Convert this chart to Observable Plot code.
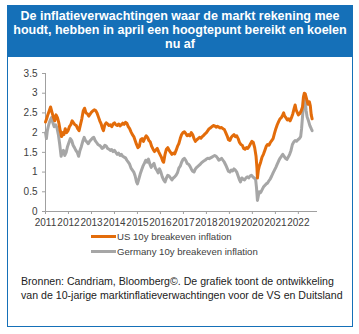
<!DOCTYPE html>
<html>
<head>
<meta charset="utf-8">
<script src="https://cdn.jsdelivr.net/npm/d3@7"></script>
<script src="https://cdn.jsdelivr.net/npm/@observablehq/plot@0.6"></script>
<style>
  body { margin: 0; background: #fff; font-family: "Liberation Sans", Arial, sans-serif; }
  #frame { position: absolute; left: 7px; top: 5px; width: 346px; height: 322px; box-sizing: border-box; border: 1px solid #1570b8; }
  #title { position: absolute; left: 7px; top: 5px; width: 346px; height: 52px; background: #1570b8; color: #fff; font-weight: bold; font-size: 12.5px; line-height: 14px; text-align: center; box-sizing: border-box; padding-top: 4px; }
  #chart { position: absolute; left: 0; top: 57px; }
  .leg { position: absolute; left: 91px; font-size: 9.6px; color: #404040; display: flex; align-items: center; }
  .sw { width: 25px; height: 3px; margin-right: 1px; }
  #caption { position: absolute; left: 21px; top: 274px; font-size: 10.6px; line-height: 14px; color: #222; }
</style>
</head>
<body>
<div id="frame"></div>
<div id="title">De inflatieverwachtingen waar de markt rekening mee houdt, hebben in april een hoogtepunt bereikt en koelen nu af</div>
<div id="chart"></div>
<div class="leg" style="top:231px"><div class="sw" style="background:#e36c0a"></div>US 10y breakeven inflation</div>
<div class="leg" style="top:246px"><div class="sw" style="background:#a6a6a6"></div>Germany 10y breakeven inflation</div>
<div id="caption">Bronnen: Candriam, Bloomberg©. De grafiek toont de ontwikkeling<br>van de 10-jarige marktinflatieverwachtingen voor de VS en Duitsland</div>
<script>
const seriesNames = ["US 10y breakeven inflation", "Germany 10y breakeven inflation"];
const yTicks = [0, 0.5, 1, 1.5, 2, 2.5, 3, 3.5];
const xTickYears = [2011,2012,2013,2014,2015,2016,2017,2018,2019,2020,2021,2022];

const usYears = [2011.00,2011.05,2011.10,2011.16,2011.22,2011.28,2011.34,2011.40,2011.46,2011.52,2011.58,2011.64,2011.70,2011.74,2011.80,2011.86,2011.92,2011.98,
2012.04,2012.10,2012.16,2012.22,2012.28,2012.34,2012.40,2012.46,2012.52,2012.58,2012.64,2012.70,2012.76,2012.82,2012.88,2012.94,
2013.00,2013.06,2013.12,2013.18,2013.24,2013.30,2013.36,2013.42,2013.48,2013.52,2013.58,2013.64,2013.70,2013.76,2013.82,2013.88,2013.94,
2014.00,2014.06,2014.12,2014.18,2014.24,2014.30,2014.36,2014.42,2014.48,2014.54,2014.60,2014.66,2014.72,2014.78,2014.84,2014.90,2014.96,
2015.02,2015.08,2015.14,2015.20,2015.26,2015.32,2015.38,2015.44,2015.50,2015.56,2015.62,2015.68,2015.74,2015.80,2015.86,2015.92,2015.98,
2016.04,2016.10,2016.14,2016.20,2016.26,2016.32,2016.38,2016.44,2016.50,2016.56,2016.62,2016.68,2016.74,2016.80,2016.86,2016.92,2016.98,
2017.04,2017.10,2017.16,2017.22,2017.28,2017.34,2017.40,2017.46,2017.52,2017.58,2017.64,2017.70,2017.76,2017.82,2017.88,2017.94,
2018.00,2018.06,2018.12,2018.18,2018.24,2018.30,2018.36,2018.42,2018.48,2018.54,2018.60,2018.66,2018.72,2018.78,2018.84,2018.90,2018.96,
2019.02,2019.08,2019.14,2019.20,2019.26,2019.32,2019.38,2019.44,2019.50,2019.56,2019.62,2019.68,2019.74,2019.80,2019.86,2019.92,2019.98,
2020.04,2020.10,2020.16,2020.20,2020.22,2020.26,2020.30,2020.36,2020.42,2020.48,2020.54,2020.60,2020.66,2020.72,2020.78,2020.84,2020.90,2020.96,
2021.02,2021.08,2021.14,2021.20,2021.26,2021.32,2021.36,2021.40,2021.46,2021.52,2021.58,2021.64,2021.70,2021.76,2021.82,2021.86,2021.90,2021.96,
2022.00,2022.06,2022.12,2022.18,2022.22,2022.26,2022.30,2022.36,2022.42,2022.48,2022.52,2022.56,2022.60];
const usValues = [2.27,2.35,2.45,2.55,2.65,2.52,2.40,2.30,2.45,2.38,2.25,2.05,1.90,2.00,1.95,2.10,2.00,2.05,
2.15,2.20,2.30,2.25,2.20,2.18,2.10,2.05,2.20,2.35,2.55,2.62,2.50,2.48,2.42,2.47,
2.52,2.55,2.58,2.56,2.50,2.40,2.30,2.22,2.10,2.05,2.20,2.25,2.22,2.18,2.20,2.15,2.22,
2.25,2.20,2.18,2.22,2.17,2.20,2.24,2.21,2.26,2.24,2.15,2.10,2.02,1.95,1.90,1.80,1.70,
1.62,1.65,1.82,1.85,1.78,1.86,1.92,1.88,1.80,1.76,1.65,1.58,1.52,1.56,1.60,1.52,1.45,
1.38,1.28,1.25,1.45,1.58,1.62,1.55,1.50,1.45,1.48,1.46,1.55,1.65,1.72,1.85,1.95,2.00,
2.02,1.98,1.92,1.95,1.92,2.00,1.95,1.85,1.78,1.82,1.85,1.88,1.86,1.90,1.93,1.97,
2.00,2.05,2.10,2.12,2.15,2.18,2.17,2.14,2.16,2.14,2.12,2.13,2.10,2.08,2.00,1.92,1.82,
1.80,1.88,1.92,1.95,1.90,1.92,1.85,1.75,1.70,1.68,1.60,1.58,1.62,1.60,1.65,1.72,1.78,
1.75,1.62,1.40,1.10,0.85,1.05,1.15,1.25,1.38,1.45,1.55,1.65,1.70,1.68,1.75,1.80,1.85,1.98,
2.10,2.20,2.28,2.35,2.38,2.45,2.50,2.42,2.38,2.32,2.35,2.30,2.38,2.48,2.62,2.70,2.58,2.50,
2.45,2.48,2.55,2.65,2.90,3.00,2.98,2.85,2.72,2.78,2.68,2.45,2.35];

const deYears = [2011.00,2011.04,2011.08,2011.14,2011.20,2011.26,2011.32,2011.38,2011.44,2011.50,2011.56,2011.62,2011.68,2011.72,2011.78,2011.84,2011.90,2011.96,
2012.02,2012.08,2012.14,2012.20,2012.26,2012.32,2012.38,2012.44,2012.50,2012.56,2012.62,2012.68,2012.74,2012.80,2012.86,2012.92,2012.98,
2013.04,2013.10,2013.16,2013.22,2013.28,2013.34,2013.40,2013.46,2013.52,2013.58,2013.64,2013.70,2013.76,2013.82,2013.88,2013.94,
2014.00,2014.06,2014.12,2014.18,2014.24,2014.30,2014.36,2014.42,2014.48,2014.54,2014.60,2014.66,2014.72,2014.78,2014.84,2014.90,2014.96,
2015.00,2015.06,2015.12,2015.18,2015.24,2015.30,2015.36,2015.42,2015.48,2015.54,2015.60,2015.66,2015.72,2015.78,2015.84,2015.90,2015.96,
2016.02,2016.08,2016.14,2016.20,2016.26,2016.32,2016.38,2016.44,2016.50,2016.56,2016.62,2016.68,2016.74,2016.80,2016.86,2016.92,2016.98,
2017.04,2017.10,2017.16,2017.22,2017.28,2017.34,2017.40,2017.46,2017.52,2017.58,2017.64,2017.70,2017.76,2017.82,2017.88,2017.94,
2018.00,2018.06,2018.12,2018.18,2018.24,2018.30,2018.36,2018.42,2018.48,2018.54,2018.60,2018.66,2018.72,2018.78,2018.84,2018.90,2018.96,
2019.02,2019.08,2019.14,2019.20,2019.26,2019.32,2019.38,2019.44,2019.48,2019.54,2019.60,2019.66,2019.72,2019.78,2019.84,2019.90,2019.96,
2020.02,2020.08,2020.14,2020.18,2020.22,2020.26,2020.30,2020.36,2020.42,2020.48,2020.54,2020.60,2020.66,2020.72,2020.78,2020.84,2020.90,2020.96,
2021.02,2021.08,2021.14,2021.20,2021.26,2021.32,2021.38,2021.44,2021.50,2021.56,2021.62,2021.68,2021.74,2021.80,2021.86,2021.92,2021.98,
2022.04,2022.10,2022.14,2022.18,2022.22,2022.26,2022.30,2022.34,2022.38,2022.44,2022.50,2022.56,2022.60];
const deValues = [2.00,1.85,2.05,2.20,2.31,2.38,2.25,2.15,2.20,2.12,1.95,1.70,1.40,1.50,1.55,1.42,1.50,1.65,
1.75,1.85,1.80,1.68,1.62,1.55,1.50,1.40,1.55,1.65,1.78,1.88,1.80,1.76,1.72,1.78,1.82,
1.86,1.88,1.80,1.75,1.70,1.68,1.65,1.60,1.62,1.68,1.66,1.60,1.58,1.55,1.57,1.52,
1.55,1.50,1.45,1.48,1.42,1.45,1.40,1.38,1.36,1.30,1.25,1.20,1.10,1.05,1.00,0.90,0.75,
0.70,0.82,0.95,1.05,1.15,1.22,1.30,1.25,1.33,1.20,1.12,1.18,1.22,1.10,1.05,0.98,1.08,
1.00,0.88,0.80,0.75,0.85,0.92,0.90,0.85,0.80,0.85,0.88,0.92,0.98,1.10,1.15,1.25,1.32,
1.35,1.30,1.22,1.20,1.15,1.08,1.02,1.00,1.08,1.12,1.15,1.18,1.22,1.25,1.28,1.30,
1.33,1.35,1.34,1.36,1.38,1.40,1.42,1.40,1.36,1.30,1.32,1.35,1.30,1.25,1.18,1.10,1.02,
1.00,1.05,1.03,1.08,1.05,1.00,0.90,0.80,0.75,0.85,0.82,0.80,0.85,0.88,0.85,0.90,0.92,
0.88,0.85,0.82,0.60,0.28,0.40,0.50,0.48,0.55,0.62,0.66,0.70,0.72,0.78,0.83,0.90,0.98,1.05,
1.12,1.20,1.28,1.35,1.40,1.45,1.40,1.35,1.32,1.38,1.45,1.55,1.70,1.76,1.80,1.78,1.82,
1.85,1.90,2.10,2.40,2.70,2.95,2.80,2.55,2.40,2.30,2.18,2.10,2.05];

function toDate(y) {
  const yr = Math.floor(y);
  const start = Date.UTC(yr, 0, 1), end = Date.UTC(yr + 1, 0, 1);
  return new Date(start + (y - yr) * (end - start));
}
const rows = [];
usYears.forEach((y, i) => rows.push({date: toDate(y), value: usValues[i], series: seriesNames[0]}));
deYears.forEach((y, i) => rows.push({date: toDate(y), value: deValues[i], series: seriesNames[1]}));
const de = rows.filter(d => d.series === seriesNames[1]);
const us = rows.filter(d => d.series === seriesNames[0]);

const plot = Plot.plot({
  width: 359,
  height: 174,
  marginLeft: 45,
  marginRight: 42,
  marginTop: 16,
  marginBottom: 20,
  style: {fontFamily: '"Liberation Sans", Arial, sans-serif', fontSize: "10px", color: "#404040", background: "transparent"},
  x: {type: "utc", domain: [new Date(Date.UTC(2011,0,1)), new Date(Date.UTC(2022,10,1))]},
  y: {domain: [0, 3.5]},
  marks: [
    Plot.axisY({ticks: yTicks, tickSize: 3, tickPadding: 5, tickFormat: d => String(d), stroke: "#a0a0a0", label: null}),
    Plot.ruleX([new Date(Date.UTC(2011,0,1))], {stroke: "#a0a0a0"}),
    Plot.axisX({ticks: xTickYears.map(y => new Date(Date.UTC(y,0,1))), tickSize: 3, tickPadding: 4, tickFormat: d3.utcFormat("%Y"), stroke: "#a0a0a0", label: null, dx: 0}),
    Plot.ruleY([0], {stroke: "#a0a0a0"}),
    Plot.line(de, {x: "date", y: "value", stroke: "#a6a6a6", strokeWidth: 3}),
    Plot.line(us, {x: "date", y: "value", stroke: "#e36c0a", strokeWidth: 3})
  ]
});
document.getElementById("chart").appendChild(plot);
</script>
</body>
</html>
